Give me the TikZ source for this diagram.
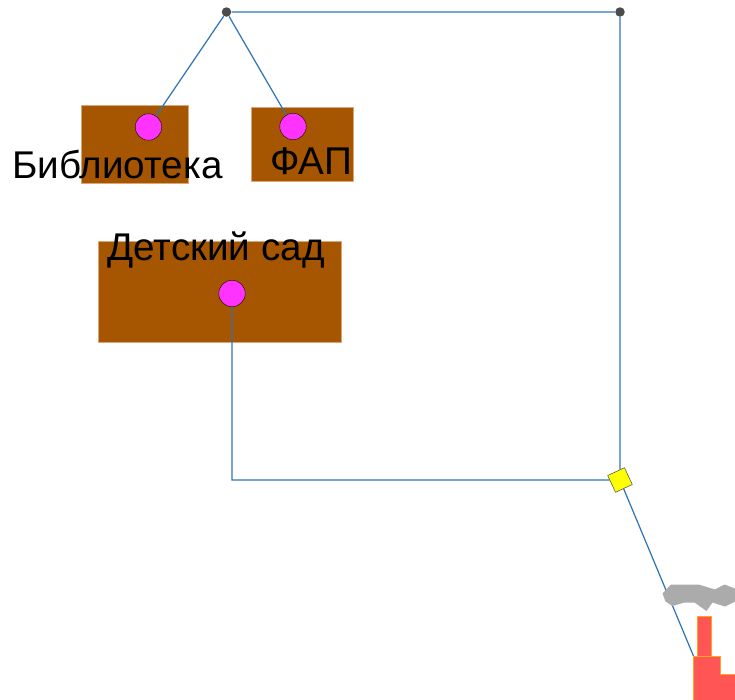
\documentclass[tikz,border=0pt]{standalone}
\usepackage{fontspec}
\setmainfont{Liberation Sans}
\usetikzlibrary{calc}
\definecolor{brownfill}{HTML}{A65500}
\definecolor{brownedge}{HTML}{D9A77A}
\definecolor{pipeblue}{HTML}{2F75B5}
\definecolor{factoryred}{HTML}{FF5555}
\definecolor{factoryedge}{HTML}{FFA51E}
\definecolor{tapfill}{HTML}{FF33FF}
\definecolor{valvefill}{HTML}{FFFF00}
\tikzset{
  building/.style={draw=brownedge,line width=0.25pt,fill=brownfill,inner sep=0pt,minimum width=#1},
  consumer/.style={circle,draw=black!70!brownfill,line width=0.3pt,fill=tapfill,inner sep=0pt,minimum size=0.53cm},
  junction/.style={circle,fill=black!70,inner sep=0pt,minimum size=0.19cm},
  valve/.style={rectangle,draw=black!70,line width=0.3pt,fill=valvefill,inner sep=0pt,minimum size=0.37cm,rotate=25},
  pipe/.style={draw=pipeblue,line width=0.7pt},
  caption/.style={font=\fontsize{22pt}{24pt}\selectfont,inner sep=0pt,text=black}
}
\begin{document}
\begin{tikzpicture}[>=stealth,x=0.02cm,y=-0.02cm]
                \useasboundingbox (0,0) rectangle (735,700);
                \node[building=2.13cm,minimum height=1.56cm] (library) at (134.75,144) {};
                \node[building=2.03cm,minimum height=1.48cm] (clinic) at (302.25,144) {};
                \node[building=4.86cm,minimum height=2.02cm] (kindergarten) at (220,291.5) {};
                \node[consumer] (librarytap) at (148.5,127) {};
                \node[consumer] (clinictap) at (293,126.5) {};
                \node[consumer] (kindergartentap) at (232,293.5) {};
                \node[junction] (topleft) at (226.5,12) {};
                \node[junction] (topright) at (620,12) {};
                \node[valve] (valve) at (620,480) {};
                \coordinate (corner) at (232,480);
                \coordinate (plant) at (693.5,656);
                \draw[pipe] (topleft) -- (librarytap);
                \draw[pipe] (topleft) -- (clinictap);
                \draw[pipe] (topleft) -- (topright) -- (valve);
                \draw[pipe] (kindergartentap) -- (corner) -- (valve);
                \draw[pipe] (valve) -- (plant);
                \fill[black!33] (662.5,593.5) -- (671,584.5) -- (698.5,584.5) -- (715,589.5) -- (724.5,584.5) -- (735,588.5) -- (735,601.5) -- (725,606.5) -- (712.5,602.5) -- (706.5,611) -- (694.5,602.5) -- (684.5,602.5) -- (672.5,606) -- (665.5,601.5) -- cycle;
                \draw[draw=factoryedge,fill=factoryred,line width=0.5pt] (697.7,656) -- (697.7,616) -- (711,616) -- (711,656) -- cycle;
                \draw[draw=factoryedge,fill=factoryred,line width=0.5pt] (693.5,701) -- (693.5,656) -- (720,656) -- (720,674.3) -- (736,674.3) -- (736,701);
                \node[caption] (librarytext) at (117.5,165) {Библиотека};
                \node[caption] (clinictext) at (311,161) {ФАП};
                \node[caption] (kindergartentext) at (216,250) {Детский сад};
            \end{tikzpicture}
\end{document}
